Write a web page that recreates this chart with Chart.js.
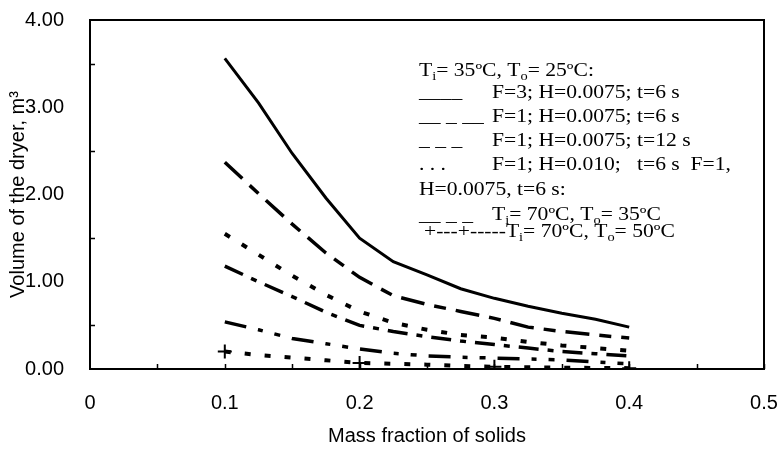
<!DOCTYPE html>
<html>
<head>
<meta charset="utf-8">
<script src="https://cdn.jsdelivr.net/npm/chart.js@4.4.1/dist/chart.umd.min.js"></script>
<style>
  html, body { margin: 0; padding: 0; background: #fff; }
  #wrap { width: 781px; height: 453px; }
</style>
</head>
<body>
<div id="wrap"><canvas id="dryerChart"></canvas></div>
<script>
// mass fraction of solids
const solids = [0.1, 0.125, 0.15, 0.175, 0.2, 0.225, 0.25, 0.275, 0.3, 0.325, 0.35, 0.375, 0.4];

// dryer volume, m3
const f3_t6 = [3.56, 3.05, 2.47, 1.96, 1.50, 1.23, 1.08, 0.92, 0.81, 0.72, 0.64, 0.57, 0.48];
const f1_t6 = [2.37, 2.01, 1.66, 1.33, 1.05, 0.84, 0.74, 0.66, 0.58, 0.48, 0.43, 0.39, 0.355];
const f1_h010 = [1.55, 1.31, 1.07, 0.85, 0.66, 0.53, 0.45, 0.39, 0.36, 0.31, 0.27, 0.24, 0.21];
const f1_t12 = [1.18, 1.00, 0.83, 0.65, 0.50, 0.43, 0.37, 0.32, 0.28, 0.24, 0.20, 0.175, 0.15];
const hot35 = [0.54, 0.45, 0.35, 0.29, 0.23, 0.18, 0.15, 0.135, 0.125, 0.115, 0.105, 0.08, 0.06];
const hot50 = [0.20, 0.16, 0.13, 0.10, 0.07, 0.06, 0.05, 0.035, 0.026, 0.02, 0.015, 0.012, 0.01];

const toPoints = arr => arr.map((v, i) => ({ x: solids[i], y: v }));

const serif = '"Liberation Serif", "Times New Roman", serif';
const sans = '"Liberation Sans", Arial, sans-serif';

// legend text lines, drawn as text inside the plot (like the original text box)
const legendLines = [
    { x: 419, y: 76, parts: [['T'], ['i', 'sub'], ['= 35'], ['º', 'sup'], ['C, T'], ['o', 'sub'], ['= 25'], ['º', 'sup'], ['C:']] },
    { x: 419, y: 98, parts: [['____']] },
    { x: 492, y: 98, parts: [['F=3; H=0.0075; t=6 s']] },
    { x: 419, y: 122, parts: [['__ _ __']] },
    { x: 492, y: 122, parts: [['F=1; H=0.0075; t=6 s']] },
    { x: 419, y: 146, parts: [['_ _ _']] },
    { x: 492, y: 146, parts: [['F=1; H=0.0075; t=12 s']] },
    { x: 419, y: 170, parts: [['. . .']] },
    { x: 492, y: 170, parts: [['F=1; H=0.010;   t=6 s  F=1,']] },
    { x: 419, y: 195, parts: [['H=0.0075, t=6 s:']] },
    { x: 419, y: 221, parts: [['__ _ _']] },
    { x: 492, y: 220, parts: [['T'], ['i', 'sub'], ['= 70'], ['º', 'sup'], ['C, T'], ['o', 'sub'], ['= 35'], ['º', 'sup'], ['C']] },
    { x: 424, y: 237, parts: [['+---+-----T'], ['i', 'sub'], ['= 70'], ['º', 'sup'], ['C, T'], ['o', 'sub'], ['= 50'], ['º', 'sup'], ['C']] }
];

const frameAndText = {
    id: 'frameAndText',
    afterDraw(chart) {
        const { ctx, chartArea: a, scales } = chart;
        ctx.save();
        ctx.strokeStyle = '#000';
        ctx.lineWidth = 2;
        ctx.strokeRect(a.left, a.top, a.right - a.left, a.bottom - a.top);

        // inward tick marks
        ctx.lineWidth = 1.5;
        ctx.beginPath();
        for (let v = 0.05; v < 0.5; v += 0.05) {
            const px = Math.round(scales.x.getPixelForValue(v)) + 0.5;
            ctx.moveTo(px, a.bottom);
            ctx.lineTo(px, a.bottom - 5);
        }
        for (let v = 0.5; v < 4; v += 1) {
            const py = Math.round(scales.y.getPixelForValue(v)) + 0.5;
            ctx.moveTo(a.left, py);
            ctx.lineTo(a.left + 5, py);
        }
        ctx.stroke();

        // legend text, slightly wide like the original
        ctx.fillStyle = '#000';
        ctx.textBaseline = 'alphabetic';
        legendLines.forEach(line => {
            ctx.save();
            ctx.translate(line.x, line.y);
            ctx.scale(1.2, 1);
            let cx = 0;
            line.parts.forEach(([txt, mode]) => {
                let size = 18, dy = 0;
                if (mode === 'sub') { size = 12; dy = 4; }
                ctx.font = size + 'px ' + serif;
                ctx.fillText(txt, cx, dy);
                cx += ctx.measureText(txt).width;
            });
            ctx.restore();
        });
        ctx.restore();
    }
};

const base = {
    borderColor: '#000',
    backgroundColor: '#000',
    showLine: true,
    fill: false,
    tension: 0,
    pointRadius: 0,
    borderCapStyle: 'butt'
};

new Chart(document.getElementById('dryerChart'), {
    type: 'scatter',
    data: {
        datasets: [
            { ...base, label: 'F=3; H=0.0075; t=6 s', data: toPoints(f3_t6), borderWidth: 3 },
            { ...base, label: 'F=1; H=0.0075; t=6 s', data: toPoints(f1_t6), borderWidth: 3.5, borderDash: [24, 10, 12, 10] },
            { ...base, label: 'F=1; H=0.010; t=6 s', data: toPoints(f1_h010), borderWidth: 4, borderDash: [6, 14] },
            { ...base, label: 'F=1; H=0.0075; t=12 s', data: toPoints(f1_t12), borderWidth: 3.5, borderDash: [20, 9, 6, 9] },
            { ...base, label: 'Ti=70C, To=35C', data: toPoints(hot35), borderWidth: 3.5, borderDash: [22, 12, 5, 12, 6, 12] },
            {
                ...base, label: 'Ti=70C, To=50C', data: toPoints(hot50), borderWidth: 4, borderDash: [6, 14],
                pointStyle: 'cross',
                pointBorderWidth: 2,
                pointRadius: c => (Math.abs(c.raw.x * 10 - Math.round(c.raw.x * 10)) < 1e-6 ? 7 : 0)
            }
        ]
    },
    options: {
        responsive: true,
        maintainAspectRatio: false,
        animation: false,
        layout: { autoPadding: false, padding: { top: 20, right: 17, left: 0, bottom: 0 } },
        plugins: {
            legend: { display: false },
            tooltip: { enabled: false }
        },
        scales: {
            x: {
                type: 'linear',
                min: 0,
                max: 0.5,
                afterFit: s => { s.height = 84; s.paddingLeft = 0; s.paddingRight = 0; },
                grid: { display: false },
                border: { display: false },
                ticks: {
                    stepSize: 0.1,
                    padding: 14,
                    color: '#000',
                    font: { family: sans, size: 20 },
                    callback: v => String(Math.round(v * 10) / 10)
                },
                title: {
                    display: true,
                    text: 'Mass fraction of solids',
                    color: '#000',
                    font: { family: sans, size: 20 },
                    padding: { top: 0, bottom: 5 }
                }
            },
            y: {
                min: 0,
                max: 4,
                afterFit: s => { s.width = 90; s.paddingTop = 0; s.paddingBottom = 0; },
                grid: { display: false },
                border: { display: false },
                ticks: {
                    stepSize: 1,
                    padding: 18,
                    color: '#000',
                    font: { family: sans, size: 20 },
                    callback: v => v.toFixed(2)
                },
                title: {
                    display: true,
                    text: 'Volume of the dryer, m³',
                    color: '#000',
                    font: { family: sans, size: 20 },
                    padding: { top: 6, bottom: 0 }
                }
            }
        }
    },
    plugins: [frameAndText]
});
</script>
</body>
</html>
